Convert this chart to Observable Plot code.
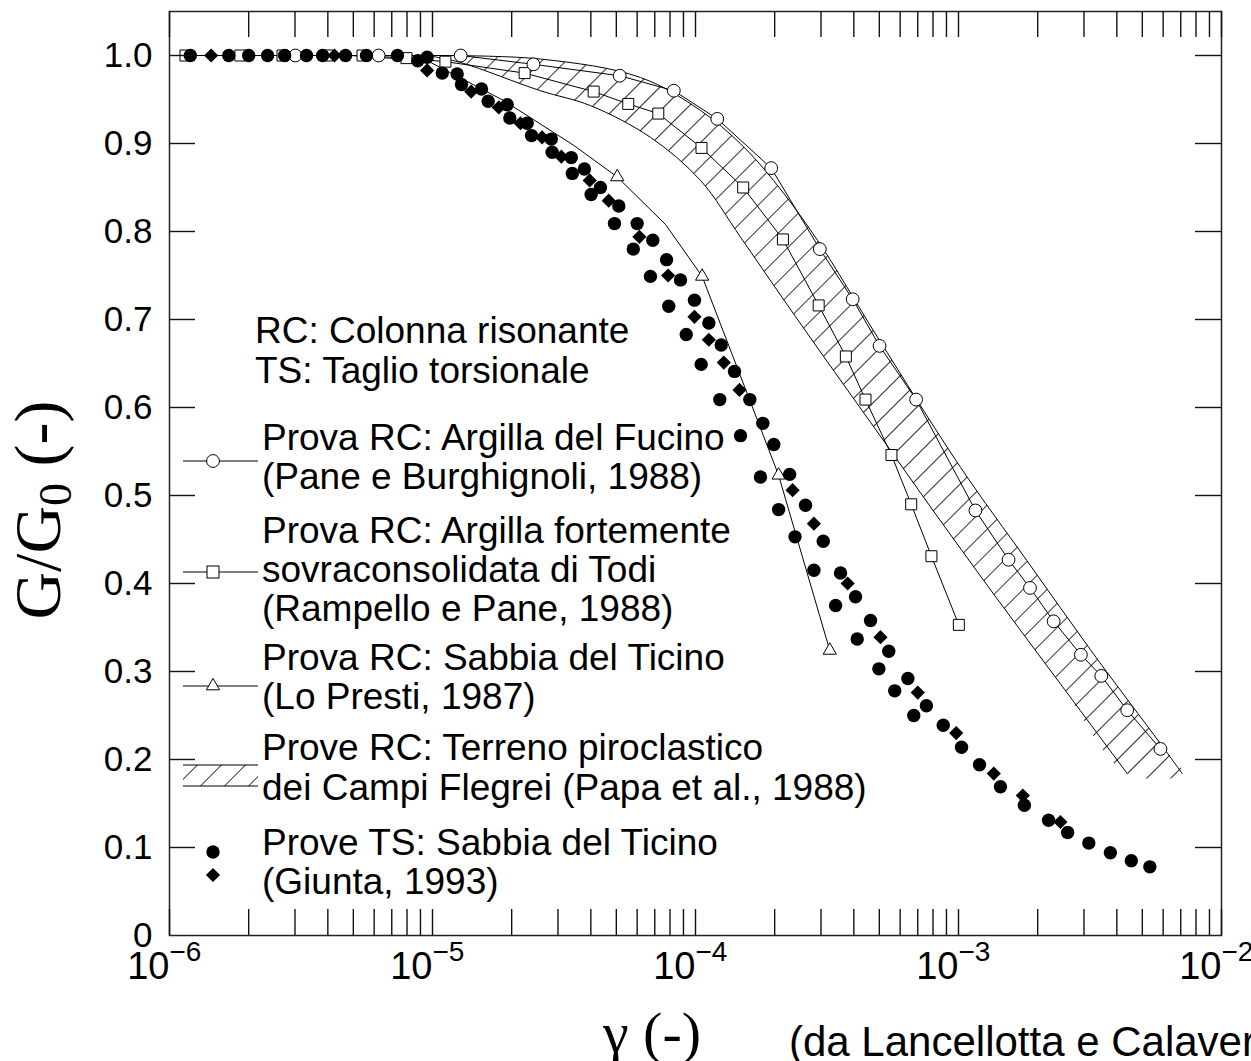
<!DOCTYPE html>
<html><head><meta charset="utf-8">
<script src="https://cdn.jsdelivr.net/npm/d3@7"></script>
<script src="https://cdn.jsdelivr.net/npm/@observablehq/plot@0.6"></script>
<style>
body{margin:0;background:#fff;}
#chart{position:relative;width:1251px;height:1061px;overflow:hidden;background:#fff;}
</style></head><body><div id="chart"></div>
<script>
// ---------------- data (gamma, G/G0) ----------------
// Prova RC: Argilla del Fucino (open circles)
const fucinoGamma = [3.01e-6, 6.24e-6, 1.28e-5, 2.42e-5, 5.15e-5, 8.27e-5, 1.21e-4, 1.94e-4, 2.97e-4, 3.96e-4, 5.01e-4, 6.90e-4, 1.16e-3, 1.55e-3, 1.87e-3, 2.30e-3, 2.92e-3, 3.49e-3, 4.38e-3, 5.86e-3];
const fucinoG     = [1.0, 1.0, 1.0, 0.990, 0.977, 0.960, 0.928, 0.872, 0.780, 0.723, 0.670, 0.609, 0.483, 0.427, 0.395, 0.357, 0.319, 0.295, 0.256, 0.212];
// Prova RC: Argilla di Todi (open squares)
const todiGamma = [1.15e-6, 1.86e-6, 2.69e-6, 3.99e-6, 5.42e-6, 7.96e-6, 1.12e-5, 2.24e-5, 4.10e-5, 5.55e-5, 7.22e-5, 1.054e-4, 1.518e-4, 2.15e-4, 2.94e-4, 3.73e-4, 4.43e-4, 5.56e-4, 6.61e-4, 7.89e-4, 1.003e-3];
const todiG     = [1.0, 1.0, 1.0, 1.0, 1.0, 0.997, 0.993, 0.980, 0.959, 0.945, 0.934, 0.895, 0.850, 0.791, 0.716, 0.658, 0.609, 0.546, 0.490, 0.431, 0.353];
// Prova RC: Sabbia del Ticino (open triangles) and its curve
const ticinoRCGamma = [5.04e-5, 1.06e-4, 2.07e-4, 3.24e-4];
const ticinoRCG     = [0.862, 0.749, 0.523, 0.324];
const ticinoRCCurveGamma = [1e-6, 4.88e-6, 9.57e-6, 1.86e-5, 3.44e-5, 5.04e-5, 7.69e-5, 1.06e-4, 2.07e-4, 3.24e-4];
const ticinoRCCurveG     = [1.0, 1.0, 0.994, 0.949, 0.898, 0.862, 0.808, 0.749, 0.523, 0.324];
// Prove RC: Campi Flegrei (hatched band)
const bandUpperGamma = [9.57e-6, 2.57e-5, 6.18e-5, 1.045e-4, 1.48e-4, 1.98e-4, 2.91e-4, 4.92e-4, 1.018e-3, 1.82e-3, 3.26e-3, 5.86e-3, 7.09e-3];
const bandUpperG     = [1.0, 0.996, 0.975, 0.9375, 0.900, 0.858, 0.790, 0.680, 0.532, 0.426, 0.320, 0.218, 0.184];
const bandLowerGamma = [9.57e-6, 1.28e-5, 2.57e-5, 3.99e-5, 6.74e-5, 1.045e-4, 1.48e-4, 2.17e-4, 3.26e-4, 5.20e-4, 7.83e-4, 1.36e-3, 2.44e-3, 4.38e-3];
const bandLowerG     = [1.0, 0.992, 0.960, 0.943, 0.907, 0.858, 0.794, 0.722, 0.647, 0.562, 0.487, 0.388, 0.286, 0.184];
// Prove TS: Sabbia del Ticino (filled circles)
const tsCircleGamma = [1.20e-6, 1.68e-6, 2.00e-6, 2.36e-6, 2.74e-6, 3.32e-6, 3.82e-6, 4.67e-6, 5.61e-6, 7.36e-6, 8.79e-6, 9.54e-6, 1.089e-5, 1.241e-5, 1.289e-5, 1.536e-5, 1.628e-5, 1.923e-5, 1.968e-5, 2.29e-5, 2.38e-5, 2.83e-5, 2.85e-5, 3.37e-5, 3.40e-5, 3.78e-5, 4.35e-5, 4.01e-5, 5.11e-5, 4.92e-5, 6.00e-5, 6.88e-5, 5.80e-5, 7.76e-5, 6.74e-5, 8.77e-5, 9.91e-5, 7.91e-5, 1.124e-4, 9.22e-5, 1.252e-4, 1.051e-4, 1.407e-4, 1.237e-4, 1.609e-4, 1.803e-4, 1.483e-4, 1.985e-4, 1.766e-4, 2.28e-4, 2.62e-4, 2.07e-4, 3.06e-4, 2.39e-4, 2.82e-4, 3.56e-4, 4.06e-4, 3.41e-4, 4.63e-4, 4.12e-4, 5.43e-4, 4.98e-4, 6.42e-4, 5.72e-4, 7.55e-4, 6.76e-4, 8.75e-4, 1.027e-3, 1.202e-3, 1.444e-3, 1.78e-3, 2.20e-3, 2.60e-3, 3.13e-3, 3.78e-3, 4.54e-3, 5.34e-3];
const tsCircleG     = [1.0, 1.0, 1.0, 1.0, 1.0, 1.0, 1.0, 1.0, 1.0, 1.0, 0.994, 0.998, 0.980, 0.979, 0.967, 0.962, 0.948, 0.944, 0.929, 0.923, 0.909, 0.905, 0.890, 0.884, 0.866, 0.871, 0.850, 0.842, 0.829, 0.809, 0.809, 0.790, 0.780, 0.768, 0.749, 0.745, 0.722, 0.715, 0.696, 0.683, 0.671, 0.649, 0.641, 0.609, 0.609, 0.582, 0.568, 0.558, 0.521, 0.524, 0.489, 0.484, 0.448, 0.453, 0.415, 0.412, 0.385, 0.375, 0.358, 0.337, 0.323, 0.303, 0.292, 0.278, 0.261, 0.250, 0.239, 0.214, 0.194, 0.169, 0.148, 0.131, 0.117, 0.105, 0.094, 0.085, 0.078];
// Prove TS: Sabbia del Ticino (filled diamonds)
const tsDiamondGamma = [1.44e-6, 4.24e-6, 9.54e-6, 1.403e-5, 1.787e-5, 2.16e-5, 2.61e-5, 3.09e-5, 3.96e-5, 4.68e-5, 6.12e-5, 7.87e-5, 9.91e-5, 1.124e-4, 1.281e-4, 1.47e-4, 2.34e-4, 2.82e-4, 3.79e-4, 5.05e-4, 7.00e-4, 9.80e-4, 1.362e-3, 1.756e-3, 2.44e-3];
const tsDiamondG     = [1.0, 1.0, 0.983, 0.959, 0.941, 0.923, 0.907, 0.885, 0.858, 0.835, 0.794, 0.750, 0.703, 0.677, 0.651, 0.620, 0.506, 0.468, 0.400, 0.339, 0.276, 0.230, 0.184, 0.159, 0.129];

// axis ticks and labels
const xMajorTicks = [1e-6, 1e-5, 1e-4, 1e-3, 1e-2];
const xMajorExponents = ["\u22126", "\u22125", "\u22124", "\u22123", "\u22122"];
const xMinorMultipliers = [1, 2, 3, 4, 5, 6, 7, 8, 9];
const yTicks = [0, 0.1, 0.2, 0.3, 0.4, 0.5, 0.6, 0.7, 0.8, 0.9, 1.0];
const yTickLabels = ["0", "0.1", "0.2", "0.3", "0.4", "0.5", "0.6", "0.7", "0.8", "0.9", "1.0"];

const legendLines = [
  "RC: Colonna risonante", "TS: Taglio torsionale",
  "Prova RC: Argilla del Fucino", "(Pane e Burghignoli, 1988)",
  "Prova RC: Argilla fortemente", "sovraconsolidata di Todi", "(Rampello e Pane, 1988)",
  "Prova RC: Sabbia del Ticino", "(Lo Presti, 1987)",
  "Prove RC: Terreno piroclastico", "dei Campi Flegrei (Papa et al., 1988)",
  "Prove TS: Sabbia del Ticino", "(Giunta, 1993)"
];

// ---------------- build tables ----------------
const zip = (xs, ys) => xs.map((x, i) => ({x, y: ys[i]}));
const fucino = zip(fucinoGamma, fucinoG);
const todi = zip(todiGamma, todiG);
const ticinoRC = zip(ticinoRCGamma, ticinoRCG);
const ticinoRCCurve = zip(ticinoRCCurveGamma, ticinoRCCurveG);
const bandUpper = zip(bandUpperGamma, bandUpperG);
const bandLower = zip(bandLowerGamma, bandLowerG);
const bandPolygon = bandUpper.concat(bandLower.slice().reverse());
const tsCircles = zip(tsCircleGamma, tsCircleG);
const tsDiamonds = zip(tsDiamondGamma, tsDiamondG);
const xTicksAll = [];
for (let e = -6; e < -2; e++) for (const m of xMinorMultipliers) xTicksAll.push(m * Math.pow(10, e));
xTicksAll.push(1e-2);

// ---------------- layout ----------------
const W = 1251, H = 1061, mL = 169, mR = 30, mT = 11, mB = 126;
const PW = W - mL - mR, PH = H - mT - mB, TICK = 26;
const SANS = "'Liberation Sans', Arial, Helvetica, sans-serif";
const SERIF = "'Liberation Serif', 'Times New Roman', Times, serif";
const diamond = d3.symbolDiamond2 || {draw(ctx, size) { const r = Math.sqrt(size / 2); ctx.moveTo(0, -r); ctx.lineTo(r, 0); ctx.lineTo(0, r); ctx.lineTo(-r, 0); ctx.closePath(); }};

const chart = Plot.plot({
  width: W, height: H,
  marginLeft: mL, marginRight: mR, marginTop: mT, marginBottom: mB,
  style: {background: "white", color: "black", fontFamily: SANS, overflow: "visible"},
  x: {type: "log", domain: [1e-6, 1e-2], axis: null},
  y: {domain: [0, 1.05], axis: null},
  marks: [
    // hatched band
    Plot.line(bandPolygon, {x: "x", y: "y", curve: "catmull-rom", fill: "url(#hatch)", stroke: "none"}),
    Plot.line(bandUpper, {x: "x", y: "y", curve: "catmull-rom", stroke: "black", strokeWidth: 1}),
    Plot.line(bandLower, {x: "x", y: "y", curve: "catmull-rom", stroke: "black", strokeWidth: 1}),
    // series lines
    Plot.line(ticinoRCCurve, {x: "x", y: "y", stroke: "black", strokeWidth: 1}),
    Plot.line(todi, {x: "x", y: "y", stroke: "black", strokeWidth: 1}),
    Plot.line(fucino, {x: "x", y: "y", stroke: "black", strokeWidth: 1}),
    // open markers
    Plot.dot(todi, {x: "x", y: "y", symbol: "square", r: 6.2, fill: "white", stroke: "black", strokeWidth: 1}),
    Plot.dot(fucino, {x: "x", y: "y", symbol: "circle", r: 6.4, fill: "white", stroke: "black", strokeWidth: 1}),
    Plot.dot(ticinoRC, {x: "x", y: "y", symbol: "triangle", r: 4.9, fill: "white", stroke: "black", strokeWidth: 1}),
    // TS data
    Plot.dot(tsDiamonds, {x: "x", y: "y", symbol: diamond, r: 6.4, fill: "black", stroke: "none"}),
    Plot.dot(tsCircles, {x: "x", y: "y", symbol: "circle", r: 6.7, fill: "black", stroke: "none"}),
    // frame and ticks
    Plot.frame({stroke: "#222", strokeWidth: 1.5}),
    Plot.ruleX(xTicksAll, {x: d => d, insetTop: PH - TICK, stroke: "#111", strokeWidth: 1.4}),
    Plot.ruleX(xTicksAll, {x: d => d, insetBottom: PH - TICK, stroke: "#111", strokeWidth: 1.4}),
    Plot.ruleY(yTicks.slice(1), {y: d => d, insetRight: PW - TICK, stroke: "#111", strokeWidth: 1.4}),
    Plot.ruleY(yTicks.slice(1), {y: d => d, insetLeft: PW - TICK, stroke: "#111", strokeWidth: 1.4}),
    // tick labels
    Plot.text(yTicks, {y: d => d, text: (d, i) => yTickLabels[i], frameAnchor: "left", dx: -17, textAnchor: "end", fontSize: 35, fontFamily: SANS, fill: "black"}),
    Plot.text(xMajorTicks, {x: d => d, text: () => "10", frameAnchor: "bottom", dx: 0, dy: 43, textAnchor: "end", fontSize: 38, fontFamily: SANS, fill: "black"}),
    Plot.text(xMajorTicks, {x: d => d, text: (d, i) => xMajorExponents[i], frameAnchor: "bottom", dx: 0, dy: 25, textAnchor: "start", fontSize: 28, fontFamily: SANS, fill: "black"})
  ]
});

document.getElementById("chart").appendChild(chart);

// hatch pattern definition
const svg = d3.select(chart);
const defs = svg.insert("defs", ":first-child");
const HS = 17;
const pat = defs.append("pattern").attr("id", "hatch").attr("patternUnits", "userSpaceOnUse")
  .attr("width", HS).attr("height", HS).attr("patternTransform", "rotate(45)");
pat.append("rect").attr("width", HS).attr("height", HS).attr("fill", "white");
pat.append("line").attr("x1", 0).attr("y1", 0).attr("x2", 0).attr("y2", HS).attr("stroke", "black").attr("stroke-width", 1.6);

// axis titles
const yTitle = svg.append("text").attr("transform", "translate(60,510) rotate(-90)")
  .attr("text-anchor", "middle").attr("font-family", SERIF).attr("font-size", 66).attr("fill", "black");
yTitle.append("tspan").text("G/G");
yTitle.append("tspan").attr("font-size", 46).attr("dy", 11).text("0");
yTitle.append("tspan").attr("dy", -11).text(" (-)");
svg.append("text").attr("x", 652).attr("y", 1052).attr("text-anchor", "middle")
  .attr("font-family", SERIF).attr("font-size", 58).attr("fill", "black").text("\u03b3 (-)");
svg.append("text").attr("x", 789).attr("y", 1056).attr("text-anchor", "start").attr("font-family", SANS).attr("font-size", 42)
  .attr("fill", "black").text("(da Lancellotta e Calavera, 1999)");

// legend
const lg = svg.append("g").attr("font-family", SANS).attr("font-size", 37).attr("fill", "black").attr("text-anchor", "start");
const base = [343, 383, 450, 489, 543, 582, 621, 670, 709, 760, 800, 855, 894];
legendLines.forEach((t, i) => {
  lg.append("text").attr("x", i < 2 ? 255 : 262).attr("y", base[i]).text(t);
});
const sym = svg.append("g").attr("stroke", "black").attr("fill", "white");
// circle entry
sym.append("line").attr("x1", 183).attr("x2", 258).attr("y1", 461).attr("y2", 461).attr("stroke-width", 1);
sym.append("circle").attr("cx", 213).attr("cy", 461).attr("r", 6.4);
// square entry
sym.append("line").attr("x1", 183).attr("x2", 258).attr("y1", 572).attr("y2", 572).attr("stroke-width", 1);
sym.append("rect").attr("x", 207).attr("y", 566).attr("width", 12).attr("height", 12);
// triangle entry
sym.append("line").attr("x1", 183).attr("x2", 258).attr("y1", 686).attr("y2", 686).attr("stroke-width", 1);
sym.append("path").attr("d", d3.symbol(d3.symbolTriangle, Math.PI * 4.9 * 4.9)()).attr("transform", "translate(213,686)");
// hatch entry
sym.append("path").attr("d", "M183,765 L258,765 L258,786 L183,786 Z").attr("fill", "url(#hatch)").attr("stroke", "none");
sym.append("line").attr("x1", 183).attr("x2", 258).attr("y1", 765).attr("y2", 765).attr("stroke-width", 1);
sym.append("line").attr("x1", 183).attr("x2", 258).attr("y1", 786).attr("y2", 786).attr("stroke-width", 1);
// TS entries
sym.append("circle").attr("cx", 213).attr("cy", 852).attr("r", 6.7).attr("fill", "black").attr("stroke", "none");
sym.append("path").attr("d", d3.symbol(diamond, Math.PI * 6.4 * 6.4)()).attr("transform", "translate(213,875)").attr("fill", "black").attr("stroke", "none");
</script>
</body></html>
